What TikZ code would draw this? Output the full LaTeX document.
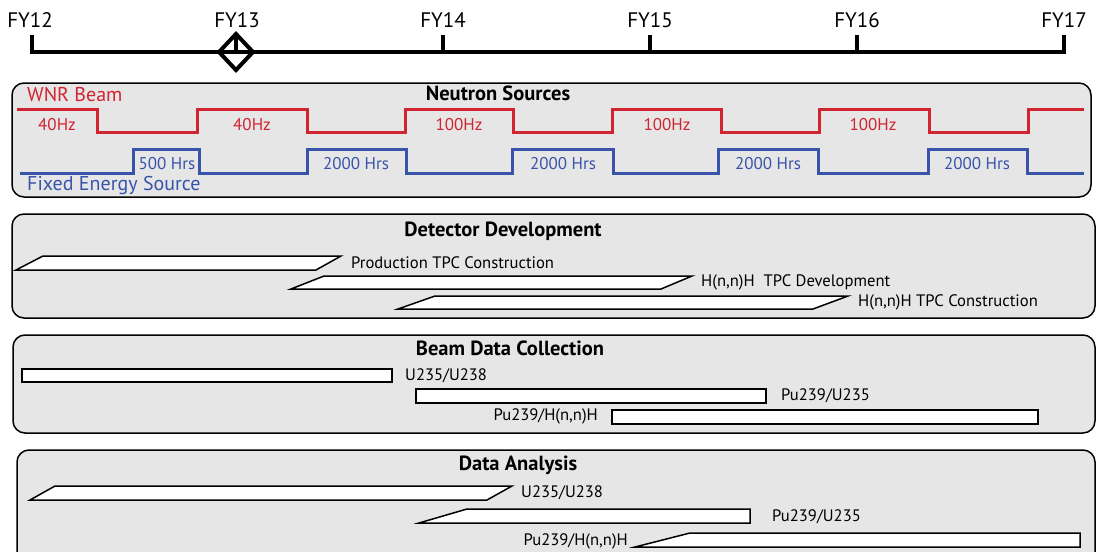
\documentclass[tikz,border=0pt]{standalone}
\usepackage{fontspec}
\setmainfont{PT Sans}
\definecolor{beamred}{RGB}{208,36,48}
\definecolor{fesblue}{RGB}{56,84,170}
\definecolor{panelgray}{RGB}{230,230,230}
\tikzset{
  panel/.style={draw=black, line width=1.5pt, fill=panelgray, rounded corners=12pt},
  bar/.style={draw=black, line width=1.5pt, fill=white, line join=miter},
  ptitle/.style={font=\fontsize{20.5}{22}\selectfont\bfseries, inner sep=0pt},
  lbl/.style={font=\fontsize{16.6}{18}\selectfont, inner sep=0pt},
  fylbl/.style={font=\fontsize{21}{24}\selectfont, inner sep=0pt},
  srclbl/.style={font=\fontsize{20}{22}\selectfont, anchor=west, inner sep=0pt},
  wave/.style={line width=3pt, line join=miter},
  hz/.style={font=\fontsize{17}{19}\selectfont, text=beamred, inner sep=0pt},
  hrs/.style={font=\fontsize{17}{19}\selectfont, text=fesblue, inner sep=0pt},
}
\begin{document}
\begin{tikzpicture}[x=1pt, y=-1pt]
\useasboundingbox (0,0) rectangle (1096,552);

% ---------- fiscal-year timeline ----------
\draw[line width=4pt, line cap=butt] (32,35) -- (32,52) -- (1064,52) -- (1064,35);
\foreach \x in {236,443,650,857}
  \draw[line width=4pt] (\x,35) -- (\x,52);
\draw[line width=4pt, fill=none, line join=miter] (236,34) -- (253,52) -- (236,70) -- (219,52) -- cycle;
\node[fylbl] (fy12) at (30,20) {FY12};
\node[fylbl] (fy13) at (237,20) {FY13};
\node[fylbl] (fy14) at (443,20) {FY14};
\node[fylbl] (fy15) at (650,20) {FY15};
\node[fylbl] (fy16) at (857,20) {FY16};
\node[fylbl] (fy17) at (1064,20) {FY17};

% ---------- neutron sources ----------
\draw[panel] (12,83) rectangle (1091,197);
\node[ptitle] (ns) at (498,93) {Neutron Sources};
\node[srclbl, text=beamred] (wnr) at (27,95) {WNR Beam};
\node[srclbl, text=fesblue] (fes) at (27,185) {Fixed Energy Source};

\draw[wave, beamred] (17,109) -- (97,109) -- (97,132) -- (197,132) -- (197,109)
  -- (307,109) -- (307,132) -- (405,132) -- (405,109) -- (513,109) -- (513,132)
  -- (612,132) -- (612,109) -- (721,109) -- (721,132) -- (819,132) -- (819,109)
  -- (929,109) -- (929,132) -- (1028,132) -- (1028,109) -- (1084,109);
\draw[wave, fesblue] (20,173) -- (133,173) -- (133,149) -- (199,149) -- (199,173)
  -- (307,173) -- (307,149) -- (406,149) -- (406,173) -- (512,173) -- (512,149)
  -- (613,149) -- (613,173) -- (718,173) -- (718,149) -- (818,149) -- (818,173)
  -- (928,173) -- (928,149) -- (1027,149) -- (1027,173) -- (1084,173);

\node[hz] (hz1) at (57,125) {40Hz};
\node[hz] (hz2) at (252,125) {40Hz};
\node[hz] (hz3) at (459,125) {100Hz};
\node[hz] (hz4) at (667,125) {100Hz};
\node[hz] (hz5) at (873,125) {100Hz};
\node[hrs] (h1) at (167,164) {500 Hrs};
\node[hrs] (h2) at (356,164) {2000 Hrs};
\node[hrs] (h3) at (563,164) {2000 Hrs};
\node[hrs] (h4) at (768,164) {2000 Hrs};
\node[hrs] (h5) at (977,164) {2000 Hrs};

% ---------- detector development ----------
\draw[panel] (12,214) rectangle (1095,318);
\node[ptitle] (dd) at (503,231) {Detector Development};
\draw[bar] (16,270) -- (43,256) -- (341,256) -- (316,270) -- cycle;
\node[lbl, anchor=west] (dd1) at (351,263) {Production TPC Construction};
\draw[bar] (291,289) -- (324,276) -- (692,276) -- (661,289) -- cycle;
\node[lbl, anchor=west] (dd2) at (701,282) {H(n,n)H\ \ TPC Development};
\draw[bar] (398,309) -- (435,296) -- (848,296) -- (813,309) -- cycle;
\node[lbl, anchor=west] (dd3) at (858,302) {H(n,n)H TPC Construction};

% ---------- beam data collection ----------
\draw[panel] (13,335) rectangle (1095,433);
\node[ptitle] (bd) at (510,348) {Beam Data Collection};
\draw[bar] (22,369) rectangle (392,382);
\node[lbl, anchor=west] (bd1) at (405,376) {U235/U238};
\draw[bar] (416,389) rectangle (766,403);
\node[lbl, anchor=west] (bd2) at (781,396) {Pu239/U235};
\draw[bar] (612,410) rectangle (1038,424);
\node[lbl, anchor=east] (bd3) at (598,416) {Pu239/H(n,n)H};

% ---------- data analysis ----------
\draw[panel] (17,450) rectangle (1095,575);
\node[ptitle] (da) at (518,465) {Data Analysis};
\draw[bar] (30,500) -- (55,486) -- (512,486) -- (487,500) -- cycle;
\node[lbl, anchor=west] (da1) at (521,493) {U235/U238};
\draw[bar] (419,523) -- (467,509) -- (750,509) -- (750,523) -- cycle;
\node[lbl, anchor=west] (da2) at (772,517) {Pu239/U235};
\draw[bar] (635,547) -- (690,533) -- (1080,533) -- (1080,547) -- cycle;
\node[lbl, anchor=east] (da3) at (628,541) {Pu239/H(n,n)H};
\end{tikzpicture}
\end{document}
